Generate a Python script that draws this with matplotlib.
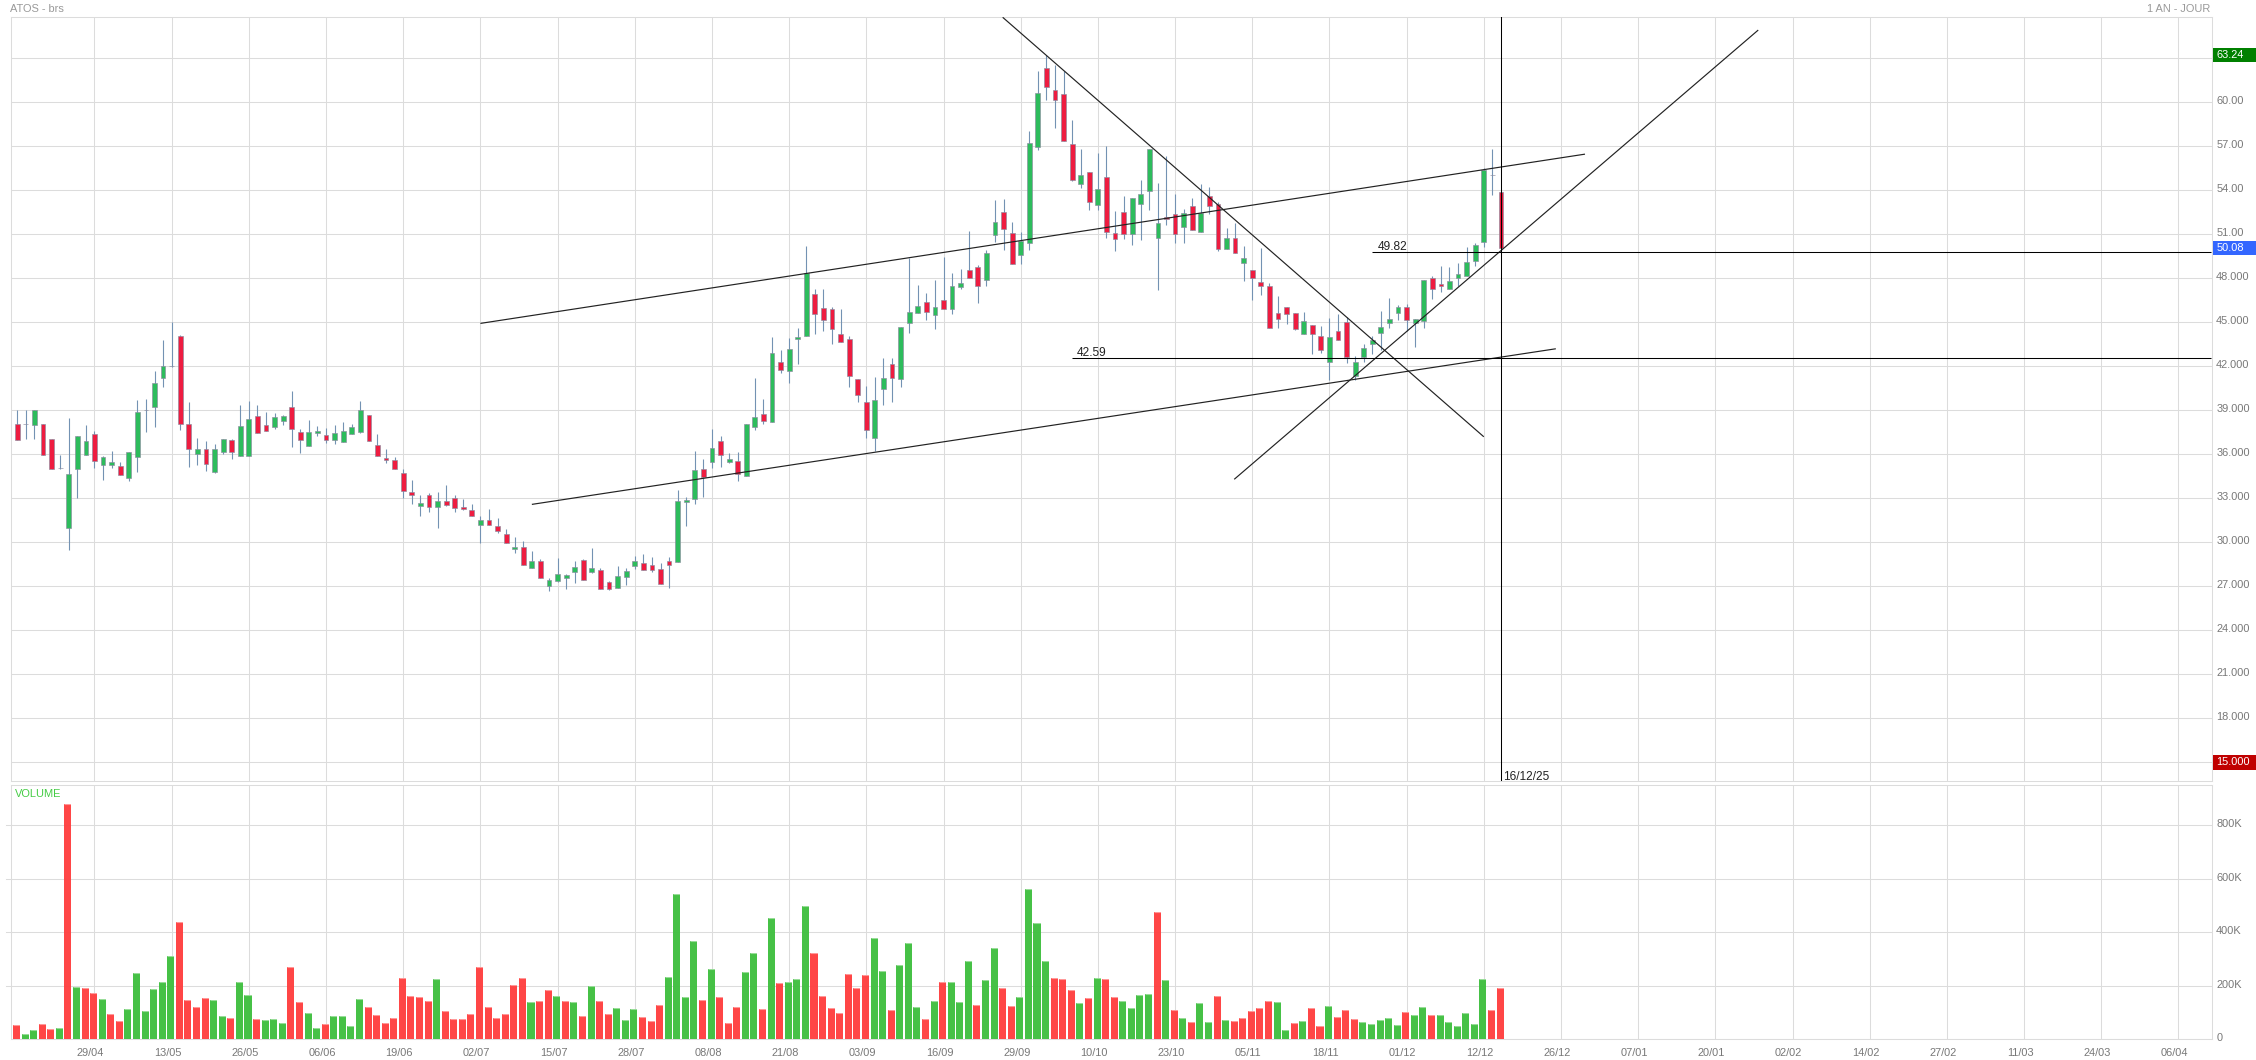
import numpy as np
import matplotlib
matplotlib.use("Agg")
import matplotlib.pyplot as plt
from matplotlib.patches import Rectangle
from matplotlib.transforms import ScaledTranslation

plt.rcParams['font.family'] = ['Liberation Sans', 'DejaVu Sans']

open_ = [38.04,38.04,38.02,38.04,37.02,35.04,31.0,35.02,35.97,37.36,
 35.29,35.29,35.22,34.41,35.84,39.0,39.25,41.22,42.0,44.07,
 38.04,36.04,36.4,34.79,36.18,36.95,35.91,35.91,38.59,37.97,
 37.88,38.29,39.2,37.5,36.59,37.47,37.29,37.0,36.86,37.4,
 37.52,38.66,36.61,35.72,35.59,34.7,33.41,32.5,33.2,32.43,
 32.79,33.0,32.38,32.18,31.2,31.5,31.09,30.54,29.56,29.66,
 28.27,28.7,27.0,27.38,27.59,28.0,28.77,28.0,28.09,27.27,
 26.91,27.66,28.41,28.56,28.43,28.16,28.7,28.68,32.77,32.93,
 34.98,35.5,36.89,35.5,35.52,34.54,37.89,38.73,38.23,42.27,
 41.7,43.84,44.04,46.91,45.95,45.89,44.18,43.84,41.11,39.54,
 37.14,40.48,42.14,41.16,44.98,45.66,46.36,45.52,46.5,45.93,
 47.43,48.54,48.75,47.91,50.98,52.5,51.07,49.61,50.43,56.98,
 62.32,60.82,60.54,57.13,54.45,55.23,53.02,54.88,51.07,52.5,
 51.0,53.09,53.98,50.77,52.16,52.36,51.52,52.91,51.18,53.59,
 53.04,50.02,50.73,49.07,48.54,47.73,47.45,45.61,46.02,45.61,
 44.23,44.79,44.04,42.32,44.39,45.0,41.36,42.61,43.54,44.29,
 44.98,45.66,46.02,44.98,45.11,48.0,47.59,47.29,48.0,48.18,
 49.2,50.5,55.02,53.86]
close = [37.0,38.04,39.0,35.97,35.02,35.04,34.63,37.22,36.88,35.56,
 35.79,35.45,34.61,36.13,38.86,39.0,40.9,42.0,42.0,38.09,
 36.38,36.34,35.36,36.34,37.02,36.18,37.91,38.38,37.47,37.61,
 38.52,38.61,37.75,37.0,37.5,37.56,37.0,37.43,37.56,37.84,
 39.0,36.93,35.91,35.63,35.02,33.52,33.25,32.66,32.43,32.79,
 32.56,32.36,32.29,31.81,31.5,31.2,30.79,29.97,29.66,28.47,
 28.72,27.59,27.41,27.81,27.77,28.29,27.45,28.22,26.84,26.84,
 27.68,28.02,28.7,28.13,28.13,27.18,28.47,32.79,32.86,34.91,
 34.48,36.41,35.98,35.66,34.64,38.04,38.52,38.29,42.89,41.77,
 43.16,43.98,48.34,45.54,45.18,44.57,43.68,41.36,40.02,37.64,
 39.68,41.18,41.18,44.66,45.68,46.09,45.73,46.02,45.93,47.45,
 47.66,48.0,47.45,49.7,51.82,51.39,48.95,50.52,57.2,60.61,
 61.07,60.18,57.34,54.73,55.02,53.18,54.07,51.18,50.7,51.0,
 53.45,53.73,56.79,51.75,52.02,51.04,52.43,51.27,52.43,52.95,
 50.02,50.73,49.7,49.36,48.0,47.5,44.59,45.2,45.54,44.57,
 45.07,44.23,43.13,43.98,43.82,42.61,42.27,43.23,43.77,44.66,
 45.2,46.02,45.14,45.2,47.86,47.29,47.5,47.79,48.27,49.09,
 50.25,55.36,55.02,50.08]
high = [39.0,39.0,39.0,38.04,37.02,35.99,38.45,37.22,38.0,37.59,
 35.88,36.2,35.45,36.13,39.68,39.75,41.66,43.79,45.0,44.15,
 39.56,37.09,36.88,36.68,37.02,37.02,39.34,39.61,39.34,38.88,
 38.79,38.66,40.29,37.7,38.31,37.91,37.77,37.97,38.18,38.04,
 39.61,38.66,37.36,36.34,35.84,34.97,34.22,33.2,33.34,33.41,
 33.88,33.2,32.93,32.59,31.77,32.25,31.63,30.88,30.34,30.07,
 29.41,28.84,27.54,28.91,27.81,28.72,28.84,29.59,28.22,27.34,
 28.38,28.22,29.07,29.18,29.0,28.56,28.97,33.56,33.07,36.2,
 35.66,37.7,37.23,36.07,36.14,38.04,41.2,39.75,43.98,43.09,
 43.91,44.59,50.18,47.25,47.25,46.02,45.89,44.04,41.11,40.64,
 41.25,42.54,42.54,44.66,49.36,47.52,46.98,47.86,49.43,48.34,
 48.61,51.2,48.89,49.91,53.34,53.41,51.82,51.13,58.04,62.11,
 63.24,62.54,62.11,58.77,56.79,55.23,56.52,57.0,52.57,53.59,
 53.45,54.68,56.79,54.48,56.32,53.77,52.7,53.45,54.41,54.2,
 53.23,51.41,51.75,50.2,48.54,50.04,47.66,46.79,46.02,45.61,
 45.68,44.79,44.73,45.27,45.54,45.34,42.68,43.5,44.04,45.75,
 46.64,46.16,46.23,45.2,47.86,48.14,48.82,48.75,49.02,50.11,
 50.39,55.5,56.79,53.86]
low = [37.0,37.06,37.06,35.97,35.02,35.02,29.47,33.02,35.97,35.09,
 34.27,35.09,34.61,34.2,34.81,37.54,37.86,40.61,41.93,37.66,
 35.16,35.27,34.88,34.75,36.04,35.68,35.91,35.91,37.47,37.61,
 37.75,37.98,36.52,36.11,36.59,37.25,36.79,36.72,36.86,37.4,
 37.47,36.93,35.91,35.43,34.97,33.04,32.63,31.81,32.09,31.0,
 32.5,32.06,32.22,31.81,29.97,31.16,30.66,29.97,29.29,28.47,
 28.27,27.59,26.7,27.27,26.84,27.25,27.45,27.93,26.84,26.75,
 26.91,27.09,28.2,28.13,28.0,27.18,26.91,28.63,31.13,32.61,
 33.11,35.09,35.16,35.43,34.2,34.54,37.68,38.09,38.23,41.57,
 40.89,42.18,44.04,44.23,44.43,43.54,43.68,40.61,39.59,37.14,
 36.2,39.39,39.59,40.61,44.29,45.66,45.18,44.57,45.93,45.59,
 47.29,48.0,46.34,47.5,50.48,49.93,48.95,49.0,49.93,56.75,
 60.18,58.27,57.34,54.66,54.18,52.68,52.68,50.77,49.88,50.7,
 50.29,50.63,52.68,47.23,51.66,50.43,50.43,51.27,51.18,52.36,
 49.88,50.02,49.7,47.84,46.54,46.88,44.59,44.59,44.91,44.5,
 44.23,42.86,42.93,41.07,43.82,42.25,41.07,42.29,42.82,43.11,
 44.61,45.16,44.39,43.34,44.64,46.59,47.09,47.25,47.45,48.18,
 48.84,50.16,53.7,50.08]
volume = [54,20,35,59,39,41,878,197,192,173,
 150,94,70,114,248,107,188,216,313,438,
 148,121,156,146,87,79,216,167,75,71,
 76,60,272,141,99,42,59,87,87,51,
 151,119,92,60,81,228,163,157,142,225,
 104,77,77,96,271,121,79,96,203,228,
 141,145,185,162,142,138,87,201,145,94,
 117,72,112,82,69,129,232,545,158,369,
 147,263,158,61,121,253,321,114,454,212,
 216,226,498,323,161,117,99,243,193,241,
 377,255,109,279,359,120,77,145,216,216,
 138,292,129,222,341,193,126,158,561,435,
 291,230,225,183,134,155,230,226,157,145,
 117,167,170,477,222,109,80,65,137,65,
 161,74,70,79,107,117,142,140,36,62,
 70,117,49,126,82,110,77,66,56,71,
 81,55,101,91,120,89,91,66,49,97,
 59,226,109,190]
volume_side = ("rggrrgrgrr" "grrggggggr" "rrrggrggrg" "ggrrggrggg"
 "grrrrrrrrg" "rrrrrrrrrr" "grrgrgrgrr" "gggrrrgggg"
 "rgrrrggrgr" "gggrrrrrrr" "ggrgggrgrg" "ggrggrrggg"
 "grrrgrgrrg" "gggrgrgrgg" "rgrrrrrggr" "grrgrrrggg"
 "ggrggrgggg" "ggrr")
x_tick_index = [9,18,27,36,45,54,63,72,81,90,99,108,117,126,135,144,153,162,171,
 180,189,198,207,216,225,234,243,252]
x_tick_labels = ["29/04","13/05","26/05","06/06","19/06","02/07","15/07","28/07",
 "08/08","21/08","03/09","16/09","29/09","10/10","23/10","05/11","18/11","01/12",
 "12/12","26/12","07/01","20/01","02/02","14/02","27/02","11/03","24/03","06/04"]
price_ticks = [15,18,21,24,27,30,33,36,39,42,45,48,51,54,57,60,63]
price_tick_labels = ["","18.000","21.000","24.000","27.000","30.000","33.000","36.000",
 "39.000","42.000","45.000","48.000","51.00","54.00","57.00","60.00",""]
volume_ticks = [0,200,400,600,800]
volume_tick_labels = ["0","200K","400K","600K","800K"]
upper_channel = ([54,182.8],[44.93,56.47])
lower_channel = ([60,179.4],[32.59,43.2])
falling_line = ([114.9,171],[65.8,37.2])
rising_line = ([141.9,203],[34.3,64.93])
level_a = 49.82
level_a_start = 158
level_b = 42.59
level_b_start = 123
cross_index = 173
cross_label = "16/12/25"
high_tag, last_tag, low_tag = 63.24, 50.08, 15.0

W, H = 2256, 1060
fig = plt.figure(figsize=(W/100, H/100), dpi=100, facecolor='white')
L, R = 10.7, 2211.7
def axes_px(top, bottom):
    return fig.add_axes([L/W, 1-bottom/H, (R-L)/W, (bottom-top)/H])
ax = axes_px(17.3, 781.0)
av = axes_px(785.3, 1039.3)

GRID = '#dcdcdc'
TXT = '#787878'
FS = 7.9
x0 = (L-17.3)/8.576
x1 = (R-17.3)/8.576
idx = np.arange(len(close))
o, h, l, c = map(np.array, (open_, high, low, close))

for a in (ax, av):
    a.set_xlim(x0, x1)
    a.set_axisbelow(True)
    a.grid(True, color=GRID, lw=0.75)
    a.set_xticks(x_tick_index)
    for s in a.spines.values():
        s.set_color(GRID)
        s.set_linewidth(0.75)
ax.set_ylim(13.73, 65.8)
av.set_ylim(0, 949.5)

ax.vlines(idx, l, h, color='#7392b3', lw=0.8, zorder=2)
colors = np.where(c > o, '#2dbc5c', '#ee1c40')
ax.bar(idx, np.abs(c-o), bottom=np.minimum(o, c), width=0.56, color=colors,
       edgecolor='#8c8ca0', linewidth=0.45, zorder=3)

for xs, ys in (upper_channel, lower_channel, falling_line, rising_line):
    ax.plot(xs, ys, color='#222222', lw=0.85, zorder=4, solid_capstyle='butt')
for lev, st in ((level_a, level_a_start), (level_b, level_b_start)):
    ax.hlines(lev, st, x1-0.1, color='black', lw=0.75, zorder=4)
    ax.annotate(f"{lev:.2f}", (st, lev), xytext=(5, 2), textcoords='offset pixels',
                fontsize=8.6, color='#222222', va='baseline', ha='left', zorder=5)
ax.axvline(cross_index, color='black', lw=0.75, zorder=4)
ax.annotate(cross_label, (cross_index, 0), xycoords=('data', 'axes fraction'),
            xytext=(2.5, 1), textcoords='offset pixels', fontsize=8.6, color='#222222',
            va='baseline', ha='left', zorder=5)

vc = ['#40bf40' if s == 'g' else '#ff4040' for s in volume_side]
bx = idx - 0.1
av.bar(bx, volume, width=0.82, color=vc, alpha=0.97, linewidth=0, zorder=3)
av.hlines(volume, bx-0.41, bx+0.41, color='white', alpha=0.45, lw=0.8, zorder=4)

ax.tick_params(axis='x', length=0, labelbottom=False)
ax.yaxis.tick_right()
ax.set_yticks(price_ticks)
ax.set_yticklabels(price_tick_labels, fontsize=FS, color=TXT)
ax.tick_params(axis='y', length=0, pad=3.2)
av.yaxis.tick_right()
av.set_yticks(volume_ticks)
av.set_yticklabels(volume_tick_labels, fontsize=FS, color=TXT)
av.tick_params(axis='y', length=0, pad=3.2)
av.set_xticklabels(x_tick_labels, fontsize=FS, color=TXT)
av.tick_params(axis='x', length=0, pad=6)

for a in (ax, av):
    for t in a.get_yticklabels():
        t.set_transform(t.get_transform() + ScaledTranslation(0, 2/100, fig.dpi_scale_trans))
for t in av.get_xticklabels():
    t.set_transform(t.get_transform() + ScaledTranslation(-4/100, 0, fig.dpi_scale_trans))

for v in volume_ticks[1:]:
    av.plot([-5/(R-L), 0], [v, v], transform=av.get_yaxis_transform(), color=GRID,
            lw=0.75, clip_on=False)

trans = ax.get_yaxis_transform()
for val, col, txt in ((high_tag, '#008000', '63.24'), (last_tag, '#3366ff', '50.08'),
                      (low_tag, '#c00000', '15.000')):
    ax.add_patch(Rectangle((1+1.3/(R-L), val-0.5), 44/(R-L), 1.0, transform=trans,
                           facecolor=col, edgecolor='none', clip_on=False, zorder=6))
    ax.text(1+4.5/(R-L), val, txt, transform=trans, color='white', fontsize=FS,
            va='center', ha='left', zorder=7, clip_on=False)

fig.text(10/W, 1-9.5/H, "ATOS - brs", color='#999999', fontsize=FS, va='center', ha='left')
fig.text(2210.7/W, 1-9.5/H, "1 AN - JOUR", color='#999999', fontsize=FS, va='center', ha='right')
av.text(14.5/W, 1-794/H, "VOLUME", transform=fig.transFigure, color='#44cc44',
        fontsize=FS, va='center', ha='left', zorder=6)

fig.savefig('out.png', dpi=100, facecolor='white')
